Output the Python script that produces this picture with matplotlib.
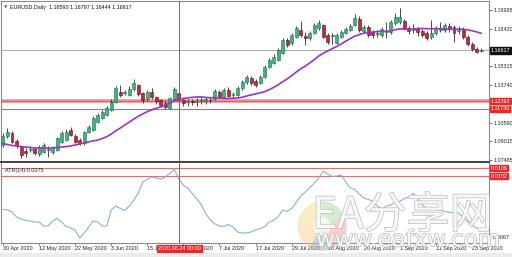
import matplotlib
matplotlib.use("Agg")
import matplotlib.pyplot as plt
import matplotlib.transforms as mtransforms
import matplotlib.patheffects as pe
from matplotlib.patches import Rectangle, Wedge

# ---------------- data ----------------
opens = [1.0871, 1.0946, 1.0971, 1.0904, 1.0854, 1.0821, 1.0829, 1.0838, 1.0796, 1.0812,
         1.0829, 1.0812, 1.0829, 1.0896, 1.0913, 1.0996, 1.0946, 1.0913, 1.0888, 1.0980,
         1.0996, 1.1063, 1.1097, 1.1122, 1.1164, 1.1230, 1.1314, 1.1306, 1.1289, 1.1339,
         1.1373, 1.1306, 1.1256, 1.1314, 1.1272, 1.1247, 1.1222, 1.1180, 1.1256, 1.1306,
         1.1247, 1.1230, 1.1239, 1.1230, 1.1239, 1.1239, 1.1247, 1.1256, 1.1314, 1.1272,
         1.1331, 1.1289, 1.1289, 1.1347, 1.1398, 1.1431, 1.1406, 1.1389, 1.1439, 1.1523,
         1.1556, 1.1582, 1.1640, 1.1749, 1.1724, 1.1774, 1.1832, 1.1782, 1.1765, 1.1807,
         1.1849, 1.1874, 1.1791, 1.1782, 1.1724, 1.1774, 1.1807, 1.1832, 1.1874, 1.1924,
         1.1824, 1.1857, 1.1816, 1.1799, 1.1791, 1.1816, 1.1816, 1.1891, 1.1899, 1.1908,
         1.1849, 1.1832, 1.1841, 1.1824, 1.1807, 1.1774, 1.1807, 1.1832, 1.1832, 1.1866,
         1.1857, 1.1824, 1.1841, 1.1774, 1.1715, 1.1673, 1.16590]
highs = [1.0971, 1.1013, 1.0988, 1.0921, 1.0863, 1.0846, 1.0863, 1.0854, 1.0871, 1.0888,
         1.0863, 1.0863, 1.0938, 1.0988, 1.1005, 1.1021, 1.0963, 1.0929, 1.0988, 1.1038,
         1.1113, 1.1138, 1.1164, 1.1197, 1.1256, 1.1364, 1.1373, 1.1331, 1.1364, 1.1423,
         1.1381, 1.1314, 1.1331, 1.1347, 1.1281, 1.1256, 1.1239, 1.1272, 1.1356, 1.1322,
         1.1256, 1.1256, 1.1256, 1.1264, 1.1272, 1.1272, 1.1272, 1.1339, 1.1331, 1.1347,
         1.1356, 1.1314, 1.1364, 1.1414, 1.1456, 1.1448, 1.1423, 1.1456, 1.1540, 1.1598,
         1.1632, 1.1682, 1.1765, 1.1765, 1.1807, 1.1866, 1.1908, 1.1816, 1.1824, 1.1891,
         1.1916, 1.1882, 1.1807, 1.1807, 1.1807, 1.1832, 1.1857, 1.1882, 1.1966, 1.1949,
         1.1874, 1.1874, 1.1832, 1.1832, 1.1857, 1.1899, 1.1916, 1.1974, 1.2016, 1.1924,
         1.1866, 1.1882, 1.1857, 1.1841, 1.1824, 1.1916, 1.1866, 1.1899, 1.1891, 1.1891,
         1.1874, 1.1866, 1.1857, 1.1791, 1.1732, 1.1690, 1.16797]
lows = [1.0854, 1.0929, 1.0888, 1.0846, 1.0762, 1.0771, 1.0812, 1.0787, 1.0779, 1.0804,
        1.0771, 1.0796, 1.0821, 1.0888, 1.0904, 1.0946, 1.0888, 1.0871, 1.0871, 1.0971,
        1.0988, 1.1055, 1.1088, 1.1113, 1.1155, 1.1222, 1.1272, 1.1289, 1.1281, 1.1322,
        1.1281, 1.1222, 1.1239, 1.1256, 1.1214, 1.1189, 1.1172, 1.1172, 1.1247, 1.1230,
        1.1197, 1.1197, 1.1205, 1.1197, 1.1214, 1.1214, 1.1222, 1.1247, 1.1264, 1.1264,
        1.1272, 1.1272, 1.1281, 1.1331, 1.1381, 1.1373, 1.1356, 1.1381, 1.1431, 1.1515,
        1.1548, 1.1573, 1.1632, 1.1690, 1.1707, 1.1765, 1.1774, 1.1707, 1.1749, 1.1799,
        1.1832, 1.1765, 1.1715, 1.1715, 1.1715, 1.1765, 1.1799, 1.1824, 1.1866, 1.1816,
        1.1807, 1.1774, 1.1765, 1.1774, 1.1774, 1.1765, 1.1799, 1.1874, 1.1882, 1.1832,
        1.1799, 1.1807, 1.1782, 1.1774, 1.1749, 1.1757, 1.1791, 1.1816, 1.1816, 1.1816,
        1.1732, 1.1799, 1.1757, 1.1699, 1.1657, 1.1640, 1.16444]
closes = [1.0946, 1.0980, 1.0896, 1.0871, 1.0787, 1.0804, 1.0838, 1.0804, 1.0854, 1.0871,
          1.0838, 1.0846, 1.0929, 1.0971, 1.0980, 1.0955, 1.0896, 1.0888, 1.0980, 1.1021,
          1.1097, 1.1122, 1.1147, 1.1180, 1.1230, 1.1347, 1.1289, 1.1314, 1.1339, 1.1389,
          1.1297, 1.1247, 1.1314, 1.1272, 1.1239, 1.1205, 1.1189, 1.1264, 1.1339, 1.1247,
          1.1222, 1.1235, 1.1230, 1.1239, 1.1247, 1.1256, 1.1243, 1.1322, 1.1272, 1.1331,
          1.1281, 1.1297, 1.1347, 1.1398, 1.1439, 1.1389, 1.1373, 1.1439, 1.1523, 1.1582,
          1.1607, 1.1665, 1.1749, 1.1707, 1.1791, 1.1849, 1.1791, 1.1765, 1.1807, 1.1874,
          1.1891, 1.1774, 1.1732, 1.1791, 1.1791, 1.1816, 1.1841, 1.1866, 1.1933, 1.1832,
          1.1857, 1.1791, 1.1791, 1.1807, 1.1841, 1.1824, 1.1899, 1.1941, 1.1941, 1.1849,
          1.1824, 1.1841, 1.1816, 1.1791, 1.1765, 1.1807, 1.1849, 1.1849, 1.1874, 1.1841,
          1.1807, 1.1832, 1.1774, 1.1715, 1.1673, 1.1648, 1.16617]
# moving average values for the first bars (its earlier inputs are off-chart)
ma_head = [1.0883, 1.0875, 1.0867, 1.0863, 1.0858, 1.0854, 1.0850, 1.0846, 1.0846, 1.0846,
           1.0846, 1.0846, 1.0850, 1.0854, 1.0858, 1.0863, 1.0871, 1.0879, 1.0888]
ma_period = 20
atr = [0.00853, 0.00850, 0.00840, 0.00815, 0.00805, 0.00798, 0.00795, 0.00790, 0.00790, 0.00770,
       0.00770, 0.00795, 0.00808, 0.00790, 0.00768, 0.00760, 0.00750, 0.00710, 0.00735, 0.00765,
       0.00795, 0.00790, 0.00770, 0.00770, 0.00850, 0.00870, 0.00858, 0.00848, 0.00870, 0.00898,
       0.00935, 0.00990, 0.01003, 0.01015, 0.01010, 0.01005, 0.01015, 0.01033, 0.01053, 0.01005,
       0.00973, 0.00960, 0.00930, 0.00905, 0.00875, 0.00830, 0.00800, 0.00780, 0.00770, 0.00768,
       0.00778, 0.00765, 0.00740, 0.00735, 0.00735, 0.00740, 0.00750, 0.00758, 0.00765, 0.00790,
       0.00798, 0.00815, 0.00850, 0.00843, 0.00858, 0.00888, 0.00920, 0.00940, 0.00960, 0.00985,
       0.01010, 0.01045, 0.01030, 0.01018, 0.01020, 0.01025, 0.00990, 0.00960, 0.00953, 0.00930,
       0.00910, 0.00903, 0.00893, 0.00870, 0.00853, 0.00870, 0.00875, 0.00892, 0.00893, 0.00908,
       0.00915, 0.00933, 0.00905, 0.00873, 0.00860, 0.00855, 0.00853, 0.00850, 0.00843, 0.00838,
       0.00837, 0.00835, 0.00815, 0.00793, 0.00773, 0.00760, 0.00750]

date_labels = ["30 Apr 2020", "12 May 2020", "22 May 2020", "3 Jun 2020", "15 Jun 2020",
               "25 Jun 2020", "7 Jul 2020", "17 Jul 2020", "29 Jul 2020", "10 Aug 2020",
               "20 Aug 2020", "1 Sep 2020", "11 Sep 2020", "23 Sep 2020"]
date_step = 8
price_ticks = [1.19995, 1.18420, 1.15315, 1.13740, 1.10590, 1.09015, 1.07485]
price_tick_labels = ["1.19995", "1.18420", "1.15315", "1.13740", "1.10590", "1.09015", "1.07485"]
bid_price = 1.16617
main_levels = [1.12363, 1.11730]
main_level_labels = ["1.12363", "1.11730"]
atr_levels = [0.0106, 0.0102]
atr_level_labels = ["0.0106", "0.0102"]
atr_min_label = "0.0067"
atr_value_label = "ATR(14) 0.0075"
header = "EURUSD,Daily  1.16590 1.16797 1.16444 1.16617"
cross_index = 39
cross_label = "2020.06.24 00:00"

# ---------------- derived ----------------
n = len(closes)
idx = list(range(n))
ma = list(ma_head)
for i in range(len(ma_head), n):
    ma.append(sum(closes[i - ma_period + 1:i + 1]) / ma_period)

# ---------------- figure ----------------
W, H = 512, 257
fig = plt.figure(figsize=(W / 100, H / 100), dpi=100)
fig.patch.set_facecolor("white")

def fx(px):
    return px / W

def fy(py):
    return 1 - py / H

main_top, split, atr_bot, right_px = 1, 162, 243, 489
ax = fig.add_axes([fx(1), fy(split), fx(right_px - 1), (split - main_top) / H])
axa = fig.add_axes([fx(1), fy(atr_bot), fx(right_px - 1), (atr_bot - split) / H])

label_font = ["Liberation Sans", "DejaVu Sans"]
fs = 3.9

for a in (ax, axa):
    a.set_facecolor("white")
    a.set_xlim(-0.44, 107.76)
    for s in a.spines.values():
        s.set_color("#8a8a8a")
        s.set_linewidth(0.8)
    a.tick_params(axis="x", bottom=False, labelbottom=False)
ax.spines["bottom"].set_color("#444444")
ax.spines["bottom"].set_linewidth(1.4)
axa.spines["top"].set_color("#444444")
axa.spines["top"].set_linewidth(1.4)

ax.set_ylim(1.07288, 1.20747)
axa.set_ylim(0.00685, 0.0109)

# price axis ticks on the right
ax.yaxis.tick_right()
ax.set_yticks(price_ticks)
ax.set_yticklabels(price_tick_labels, fontsize=fs, family=label_font, color="#222222")
ax.tick_params(axis="y", length=2, width=0.6, pad=1.2, color="#555555")
axa.yaxis.tick_right()
axa.set_yticks([])

# bid line
ax.axhline(bid_price, color="#a8a8a8", lw=0.7, zorder=1)
# horizontal level lines
ax.axhline(main_levels[0], color="#f09090", lw=2.6, zorder=1.5)
ax.axhline(main_levels[0], color="#e05a5a", lw=0.6, zorder=1.6)
ax.axhline(main_levels[1], color="#e06060", lw=0.8, zorder=1.5)
for lv in atr_levels:
    axa.axhline(lv, color="#e07070", lw=0.8, zorder=1.5)

# candles
bull_face, bull_edge = "#3fb37f", "#1f6e4c"
bear_face, bear_edge = "#b3303a", "#5e1218"
ax.vlines(idx, lows, highs, color="#2a2a2a", lw=0.6, zorder=2)
body_bottom = [min(o, c) for o, c in zip(opens, closes)]
body_height = [max(abs(c - o), 0.00012) for o, c in zip(opens, closes)]
faces = [bull_face if c >= o else bear_face for o, c in zip(opens, closes)]
edges = [bull_edge if c >= o else bear_edge for o, c in zip(opens, closes)]
ax.bar(idx, body_height, bottom=body_bottom, width=0.66, color=faces,
       edgecolor=edges, linewidth=0.4, zorder=3)

# moving average
ax.plot(idx, ma, color="#9b35c0", lw=1.2, zorder=4)

# ATR line
axa.plot(idx, atr, color="#8ab0d6", lw=0.8, zorder=3)

# crosshair
ax.axvline(cross_index, color="#c04848", lw=0.7, zorder=5)
axa.axvline(cross_index, color="#c04848", lw=0.7, zorder=5)

# header and ATR label
ax.text(0.006, 0.975, "\u25BC", transform=ax.transAxes, fontsize=3.0, color="#555555",
        va="top", ha="left", family="DejaVu Sans")
ax.text(0.019, 0.978, header, transform=ax.transAxes, fontsize=fs, color="#111111",
        va="top", ha="left", family=label_font)
axa.text(0.008, 0.93, atr_value_label, transform=axa.transAxes, fontsize=fs,
         color="#222222", va="top", ha="left", family=label_font, zorder=6)

# right-hand boxed labels
tr_main = mtransforms.blended_transform_factory(ax.transAxes, ax.transData)
tr_atr = mtransforms.blended_transform_factory(axa.transAxes, axa.transData)
lab_x = 1.0 + 1.5 / (right_px - 1)
box_kw = dict(boxstyle="square,pad=0.12")
ax.text(lab_x, bid_price, "1.16617", transform=tr_main, fontsize=fs, family=label_font,
        color="white", va="center", ha="left", clip_on=False,
        bbox=dict(fc="#111111", ec="#111111", **box_kw))
for lv, lb in zip(main_levels, main_level_labels):
    ax.text(lab_x, lv, lb, transform=tr_main, fontsize=fs, family=label_font,
            color="white", va="center", ha="left", clip_on=False,
            bbox=dict(fc="#e8282a", ec="#e8282a", **box_kw))
for lv, lb in zip(atr_levels, atr_level_labels):
    axa.text(lab_x, lv, lb, transform=tr_atr, fontsize=fs, family=label_font,
             color="white", va="center", ha="left", clip_on=False,
             bbox=dict(fc="#e8282a", ec="#e8282a", **box_kw))
axa.text(lab_x + 0.004, 0.00715, atr_min_label, transform=tr_atr, fontsize=fs,
         family=label_font, color="#222222", va="center", ha="left", clip_on=False)

# date labels
tr_dates = mtransforms.blended_transform_factory(axa.transData, axa.transAxes)
for k, lb in enumerate(date_labels):
    xi = k * date_step
    axa.text(xi, -0.04, lb, transform=tr_dates, fontsize=fs, family=label_font,
             color="#222222", va="top", ha="left", clip_on=False)
    axa.plot([xi, xi], [0, -0.03], transform=tr_dates, color="#555555", lw=0.5,
             clip_on=False)
axa.text(cross_index - 4.6, -0.04, cross_label, transform=tr_dates, fontsize=fs,
         family=label_font, color="white", va="top", ha="left", clip_on=False, zorder=10,
         bbox=dict(boxstyle="square,pad=0.2", fc="#e8282a", ec="#e8282a"))

# bottom grey strip
fig.patches.append(Rectangle((0, 0), 1, 4 / H, transform=fig.transFigure,
                             fc="#ececec", ec="none"))

# watermark
wm_ax = fig.add_axes([fx(296), fy(252), fx(52), 52 / H])
wm_ax.set_xlim(-1, 1)
wm_ax.set_ylim(-1, 1)
wm_ax.axis("off")
for th1, th2, col in [(90, 180, "#f3d36b"), (20, 90, "#8fd08a"), (-60, 20, "#f08a7a"),
                      (180, 300, "#f5c27a"), (-120, -60, "#7fb7e8")]:
    wm_ax.add_patch(Wedge((0, 0), 0.95, th1, th2, fc=col, ec="none", alpha=0.4))
wm_ax.add_patch(Wedge((0, 0), 0.35, 0, 360, fc="white", ec="none", alpha=0.7))

stroke = [pe.withStroke(linewidth=1.0, foreground="#bcbcbc")]
fig.text(fx(312), fy(216), "EA分享网", fontsize=31, color="#f7f7f7",
         family=["Noto Sans CJK SC", "DejaVu Sans"], va="center", ha="left",
         path_effects=stroke, zorder=20)
fig.text(fx(316), fy(240), "www.eafxw.com", fontsize=16.5, color="#f7f7f7",
         family=["DejaVu Sans"], va="center", ha="left", path_effects=stroke, zorder=20)

fig.savefig("out.png", dpi=100, facecolor="white")
